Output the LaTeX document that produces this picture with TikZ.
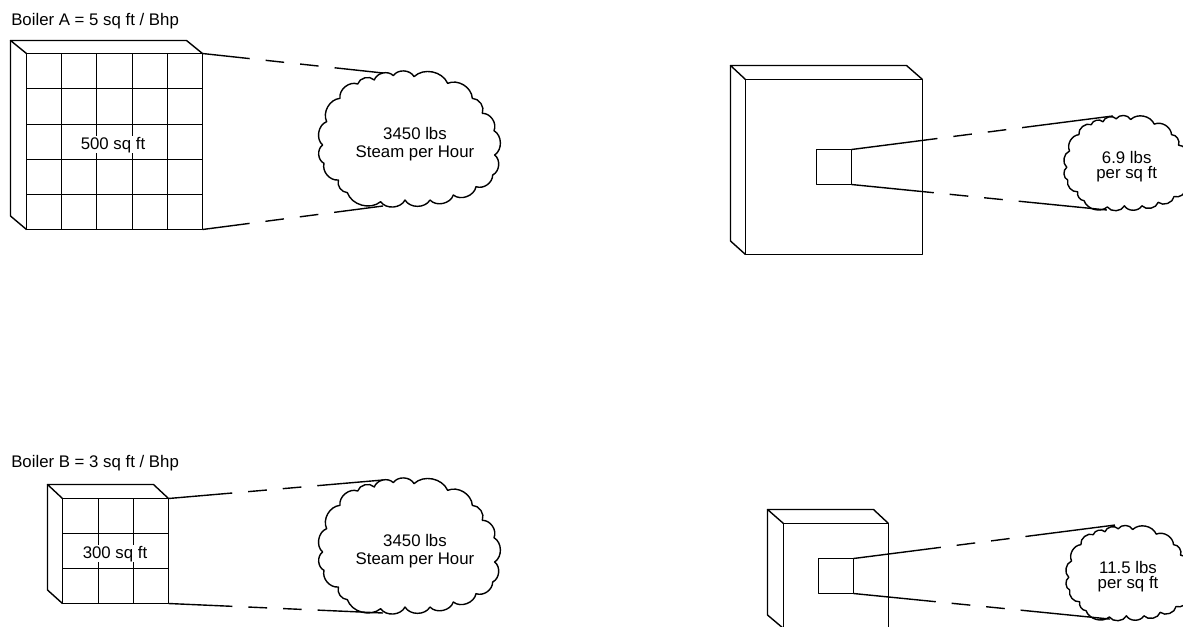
\documentclass[tikz,border=0pt]{standalone}
\usepackage{fontspec}
\setmainfont{Liberation Sans}
\newcommand{\cloudoutline}{(90,115) to[bend left=60] (143,72) to[bend left=60] (193,60) to[bend left=60] (250,47) to[bend left=60] (312,50) to[bend left=55] (413,70) to[bend left=55] (487,115) to[bend left=55] (517,160) to[bend left=58] (552,212) to[bend left=58] (554,285) to[bend left=58] (548,345) to[bend left=55] (498,380) to[bend left=60] (430,405) to[bend left=60] (360,420) to[bend left=60] (285,420) to[bend left=60] (212,425) to[bend left=55] (112,398) to[bend left=50] (85,360) to[bend left=55] (42,310) to[bend left=60] (38,255) to[bend left=60] (50,185) to[bend left=55] cycle}
\tikzset{
  ln/.style={line width=1.05pt,black,line join=round},
  cloudbig/.style={x=0.25pt,y=-0.25pt},
  cloudsmall/.style={x=0.175pt,y=-0.175pt},
  lead/.style={ln,dash pattern=on #1 off 12pt on 14pt off 12pt on 14pt off 12pt on 300pt},
  lbl/.style={inner sep=0pt,font=\fontsize{12.6}{13.5}\selectfont,align=center},
  bigl/.style={lbl},
  smalll/.style={inner sep=0pt,font=\fontsize{12.6}{11.25}\selectfont,align=center},
  areal/.style={lbl,fill=white,inner xsep=0.5pt,inner ysep=0.5pt},
  pane/.style={ln,draw,minimum width=26.25pt,minimum height=26.25pt,inner sep=0pt,outer sep=0pt}
}
\begin{document}
\begin{tikzpicture}[x=0.75pt,y=-0.75pt]
\clip (0,0) rectangle (1183,626);
% Boiler A grid
\foreach \t in {61.5,96.5,132.5,167.5}{
  \draw[ln] (\t,53.5) -- (\t,229.5);
}
\foreach \t in {88.5,124.5,159.5,194.5}{
  \draw[ln] (26.5,\t) -- (202.5,\t);
}
\draw[ln] (26.5,53.5) rectangle (202.5,229.5);
\draw[ln] (26.5,53.5) -- (10.5,40.5) -- (186.5,40.5) -- (202.5,53.5);
\draw[ln] (10.5,40.5) -- (10.5,216) -- (26.5,229.5);
\node[areal,anchor=base] (areaA) at (113,149) {500 sq ft};
\node[lbl,anchor=base west] (titleA) at (11,25) {Boiler A = 5 sq ft / Bhp};
\coordinate (aTop) at (202.5,53.5);
\coordinate (aBot) at (202.5,229.5);
\begin{scope}[shift={(310,60)},cloudbig]
\draw[ln] \cloudoutline;
\coordinate (cATop) at (219,39);
\coordinate (cABot) at (219,438);
\end{scope}
\node[bigl] (steamA) at (415,144.5) {3450 lbs\\Steam per Hour};
\draw[lead=35.6pt] (aTop) -- (cATop);
\draw[lead=35.6pt] (aBot) -- (cABot);
% Boiler A plain
\draw[ln] (745.5,79.5) rectangle (922.5,254.5);
\draw[ln] (745.5,79.5) -- (730.5,65.5) -- (906.5,65.5) -- (922.5,79.5);
\draw[ln] (730.5,65.5) -- (730.5,241) -- (745.5,254.5);
\node[pane] (sqA) at (834,167) {};
\begin{scope}[shift={(1057.9,107.8)},cloudsmall]
\draw[ln] \cloudoutline;
\coordinate (cSATop) at (236,35);
\coordinate (cSABot) at (210,438);
\end{scope}
\node[smalll] (rateA) at (1126.7,167) {6.9 lbs\\per sq ft};
\draw[lead=65pt] (sqA.north east) -- (cSATop);
\draw[lead=62pt] (sqA.south east) -- (cSABot);
% Boiler B grid
\foreach \t in {98.5,133.5}{
  \draw[ln] (\t,498.5) -- (\t,603.5);
}
\foreach \t in {533.5,568.5}{
  \draw[ln] (62.5,\t) -- (168.5,\t);
}
\draw[ln] (62.5,498.5) rectangle (168.5,603.5);
\draw[ln] (62.5,498.5) -- (47.5,484.5) -- (153.5,484.5) -- (168.5,498.5);
\draw[ln] (47.5,484.5) -- (47.5,590) -- (62.5,603.5);
\node[areal,anchor=base] (areaB) at (115,558) {300 sq ft};
\node[lbl,anchor=base west] (titleB) at (11,467) {Boiler B = 3 sq ft / Bhp};
\coordinate (bTop) at (168.5,498.5);
\coordinate (bBot) at (168.5,603.5);
\begin{scope}[shift={(310,467)},cloudbig]
\draw[ln] \cloudoutline;
\coordinate (cBTop) at (219,39);
\coordinate (cBBot) at (219,438);
\end{scope}
\node[bigl] (steamB) at (415,551.5) {3450 lbs\\Steam per Hour};
\draw[lead=48pt] (bTop) -- (cBTop);
\draw[lead=48pt] (bBot) -- (cBBot);
% Boiler B plain
\draw[ln] (783.5,523.5) rectangle (888.5,628.5);
\draw[ln] (783.5,523.5) -- (767.5,509.5) -- (873.5,509.5) -- (888.5,523.5);
\draw[ln] (767.5,509.5) -- (767.5,615) -- (783.5,628.5);
\node[pane] (sqB) at (836,576) {};
\begin{scope}[shift={(1059.9,517.8)},cloudsmall]
\draw[ln] \cloudoutline;
\coordinate (cSBTop) at (236,31);
\coordinate (cSBBot) at (215,434);
\end{scope}
\node[smalll] (rateB) at (1128,577) {11.5 lbs\\per sq ft};
\draw[lead=66pt] (sqB.north east) -- (cSBTop);
\draw[lead=62pt] (sqB.south east) -- (cSBBot);
\end{tikzpicture}
\end{document}
